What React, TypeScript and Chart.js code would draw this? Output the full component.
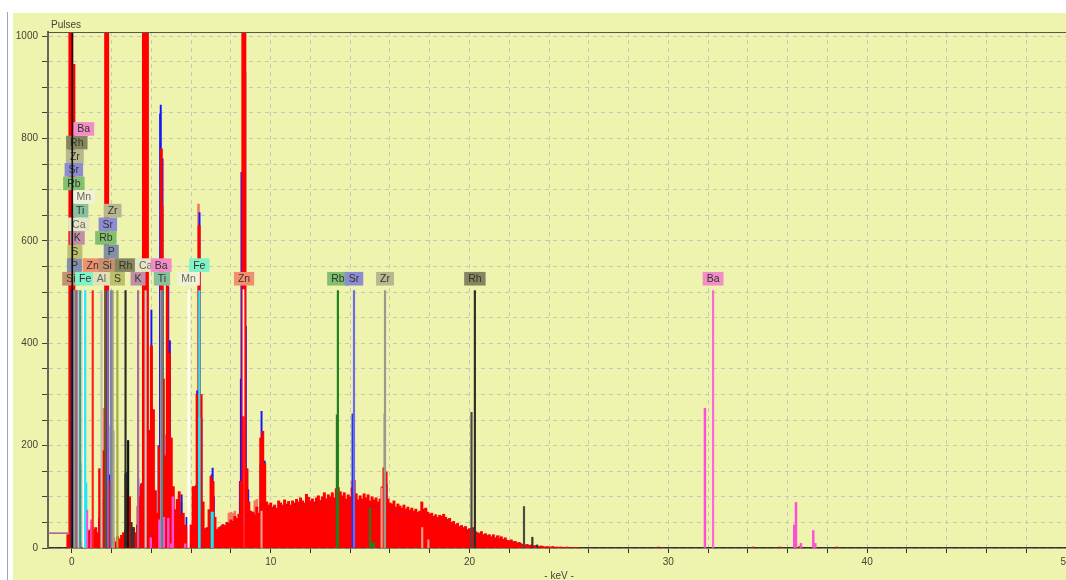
import React, { useEffect, useRef } from "react";
import { Chart, registerables } from "chart.js";

Chart.register(...registerables);

// Energy axis of the continuum starts at -0.2 keV, one count value per 0.1 keV bin.
const spectrumCounts = [
  26, 1100, 1100, 945, 0, 8, 12, 0, 0, 30,
  32, 35, 40, 36, 40, 30, 155, 20, 190, 1100,
  1100, 130, 60, 20, 12, 22, 18, 25, 30, 35,
  118, 100, 35, 40, 30, 45, 100, 125, 1100, 1100,
  1100, 230, 395, 270, 112, 68, 198, 780, 330, 180,
  520, 380, 215, 120, 75, 95, 110, 65, 68, 45,
  40, 45, 45, 120, 120, 300, 630, 300, 90, 38,
  40, 75, 140, 130, 60, 36, 40, 42, 46, 44,
  50, 48, 55, 52, 62, 58, 66, 130, 1100, 1100,
  155, 90, 72, 70, 65, 80, 68, 215, 228, 165,
  90, 84, 88, 80, 84, 78, 92, 88, 84, 94,
  86, 91, 84, 92, 88, 95, 90, 98, 92, 88,
  105, 99, 92, 96, 90, 98, 102, 93, 100, 108,
  96, 104, 100, 108, 98, 116, 118, 110, 102, 108,
  96, 104, 100, 118, 132, 106, 94, 102, 96, 106,
  98, 104, 92, 100, 94, 98, 90, 96, 118, 156,
  148, 96, 88, 86, 92, 80, 86, 82, 78, 84,
  76, 80, 74, 78, 72, 76, 70, 72, 90, 76,
  78, 70, 66, 68, 62, 65, 60, 64, 62, 66,
  60, 56, 58, 50, 52, 46, 48, 42, 44, 40,
  42, 36, 38, 34, 40, 32, 30, 28, 32, 26,
  28, 24, 26, 22, 26, 20, 24, 18, 22, 17,
  20, 15, 14, 16, 12, 13, 10, 11, 8, 7,
  6, 7, 5, 6, 4, 5, 4, 3, 4, 3,
  2, 3, 2, 2, 3, 1, 2, 1, 2, 1,
  1, 2, 1, 0, 1, 1, 0, 1,
];
const spectrumKev = spectrumCounts.map((_, bin) => (bin - 2) / 10);

const redShoulderKev = [4.56];
const redShoulderCounts = [668];

const salmonKev = [1.6, 3.3, 3.4, 5.5, 6.37, 7.9, 8.0, 8.1, 8.2, 9.2, 9.3, 14.1, 15.6, 15.7, 15.8, 21.5];
const salmonCounts = [273, 81, 120, 90, 672, 68, 70, 68, 72, 92, 95, 130, 120, 158, 150, 24];

const blueKev = [1.37, 1.58, 1.83, 1.88, 2.72, 2.78, 3.34, 3.54, 3.62, 3.82, 3.92, 4.0, 4.09, 4.14, 4.36, 4.45, 4.47, 4.44, 4.56, 4.76, 4.85, 4.93, 5.52, 5.77, 6.24, 6.3, 6.42, 6.52, 7.03, 7.08, 7.14, 8.45, 8.5, 8.53, 8.72, 8.75, 8.82, 8.87, 9.49, 9.54, 9.7, 15.83, 15.87, 16.1, 16.2];
const blueCounts = [58, 94, 238, 143, 148, 102, 135, 127, 510, 218, 172, 465, 270, 114, 200, 510, 865, 848, 760, 221, 510, 405, 104, 60, 122, 307, 655, 254, 143, 156, 101, 130, 330, 734, 928, 433, 153, 114, 163, 267, 170, 124, 40, 13, 13];

const cyanKev = [0.62, 0.72, 6.41, 7.04, 7.08];
const cyanCounts = [141, 127, 254, 70, 70];

const magentaKev = [0.76, 0.98, 3.97, 4.4, 4.63, 4.85, 5.0, 5.08, 5.7, 31.84, 36.33, 36.42, 36.67, 37.29, 37.39];
const magentaCounts = [74, 55, 20, 55, 60, 58, 8, 100, 8, 273, 45, 89, 9, 34, 9];

const betaKev = [0.42, 2.05, 2.1, 2.7, 2.83, 3.0, 3.1, 13.33, 14.12, 15.0, 15.1, 15.2, 15.73, 20.1, 22.74, 23.16, 23.4];
const betaCounts = [165, 229, 229, 145, 210, 50, 40, 260, 262, 78, 10, 10, 262, 265, 81, 21, 6];
const betaColors = ["#2f8f78", "#b4b4a2", "#b4b4a2", "#111111", "#111111", "#33332c", "#33332c", "#1f7f1f", "#2a2ae8", "#1f7f1f", "#1f7f1f", "#1f7f1f", "#8f8f85", "#4a4a40", "#4a4a40", "#33332c", "#33332c"];

const specksKev = [29.5, 34.26, 35.6, 36.6, 38.46];
const specksCounts = [2, 2, 2, 3, 2];

const paleKev = [9.54, 15.58, 17.62, 17.93];
const paleCounts = [72, 117, 40, 16];

const backgroundFitKev = [3, 4, 5, 5.5, 6, 7, 8, 9, 10, 11, 12, 13, 14, 15, 16, 17, 18, 19, 20, 21, 22, 23];
const backgroundFitCounts = [28, 22, 28, 38, 35, 38, 50, 65, 78, 84, 88, 90, 86, 82, 72, 66, 58, 45, 34, 24, 14, 5];

const thresholdKev = [-1.2, -0.1];
const thresholdCounts = [29, 29];

const peakTopKev = [0.02];
const peakTopCounts = [1100];

const whiteSegmentKev = [8.63];
const whiteSegmentCounts = [[258, 505]];

// Element markers: name, line energy, and how many label rows up the tag is stacked.
const markerNames = ["Si", "Rb", "P", "Sr", "S", "Zr", "Rh", "K", "Ca", "Ti", "Ba", "Mn", "Fe", "Zn", "Al", "Rb", "Si", "Sr", "P", "Zr", "S", "Rh", "K", "Ca", "Ba", "Ti", "Mn", "Fe", "Zn", "Rb", "Sr", "Zr", "Rh", "Ba"];
const markerKev = [-0.05, 0.1, 0.13, 0.1, 0.15, 0.15, 0.25, 0.27, 0.35, 0.42, 0.6, 0.6, 0.67, 1.05, 1.49, 1.71, 1.77, 1.81, 1.98, 2.05, 2.29, 2.7, 3.33, 3.71, 4.49, 4.53, 5.87, 6.41, 8.66, 13.38, 14.19, 15.75, 20.27, 32.25];
const markerRows = [0, 7, 1, 8, 2, 9, 10, 3, 4, 5, 11, 6, 0, 1, 0, 3, 1, 4, 2, 5, 0, 1, 0, 1, 1, 0, 0, 1, 0, 0, 0, 0, 0, 0];
const MARKER_TOP = 503;
const ROW_BASE = 526;
const ROW_STEP = 26.6;

const tagColors: Record<string, string> = {
  Ba: "#f48cc8", Rh: "#85855f", Zr: "#b8b88f", Sr: "#8c8cd2", Rb: "#82bf6e", Mn: "#f0f2d8", Ti: "#88bf9d", Ca: "#e4e6c6",
  K: "#bf8fa8", S: "#bdbf6a", P: "#8290a8", Si: "#c49270", Fe: "#80f2c8", Al: "#e0e2b8", Zn: "#f28f6f",
};
const stemColors: Record<string, string> = {
  Ba: "#ff66d9", Rh: "#2e2e26", Zr: "#9a9a8a", Sr: "#6a6ae6", Rb: "#1f7f1f", Mn: "#ffffff", Ti: "#2f9f80", Ca: "#c8c8c0",
  K: "#a86aa0", S: "#a8a840", P: "#6878a0", Si: "#8a2020", Fe: "#20e8ff", Al: "#c0c0b0", Zn: "#ff2020",
};

const FONT = "'Liberation Sans', Arial, sans-serif";
const xy = (xs: number[], ys: any[]) => xs.map((x, i) => ({ x, y: ys[i] }));
const bars = (xs: number[], ys: any[], color: any, width: number) => ({
  type: "bar" as const, data: xy(xs, ys), backgroundColor: color, barThickness: width, grouped: false, borderWidth: 0,
});

export default function App() {
  const ref = useRef<HTMLCanvasElement>(null);
  useEffect(() => {
    const paintOrder: any[] = [
      bars(salmonKev, salmonCounts, "#f27a62", 2),
      bars(blueKev, blueCounts, "#1414ff", 1.3),
      bars(spectrumKev, spectrumCounts, "#ff0000", 2.3),
      bars(redShoulderKev, redShoulderCounts, "#ff0000", 1.2),
      { type: "line", data: xy(backgroundFitKev, backgroundFitCounts), borderColor: "rgba(70,30,190,0.65)", borderWidth: 1, borderDash: [2, 5], pointRadius: 0, tension: 0.3 },
      bars(specksKev, specksCounts, "#e01010", 1.5),
      bars(paleKev, paleCounts, "#ef9c88", 1.5),
      bars(cyanKev, cyanCounts, "#12e8f4", 1.6),
      bars(magentaKev, magentaCounts, "#ff4fd8", 1.8),
      bars(betaKev, betaCounts, betaColors, 1.5),
      bars(markerKev, markerKev.map(() => MARKER_TOP), markerNames.map((n) => stemColors[n]), 1.5),
      bars(whiteSegmentKev, whiteSegmentCounts, "#fff4e8", 1),
      { type: "line", data: xy(thresholdKev, thresholdCounts), borderColor: "#a05f90", borderWidth: 1.5, pointRadius: 0 },
      bars(peakTopKev, peakTopCounts, "#111111", 1),
    ];
    const n = paintOrder.length;
    const datasets = paintOrder.map((d, i) => ({ ...d, order: n - i }));
    const tagLayer = n - 2;

    const frame = {
      id: "frame",
      beforeDraw(chart: any) {
        const c = chart.ctx;
        c.save();
        c.fillStyle = "#ffffff";
        c.fillRect(0, 0, 1066, 580);
        c.fillStyle = "#eef3ae";
        c.fillRect(13, 13, 1053, 567);
        c.fillStyle = "#a4a4ac";
        c.fillRect(7, 12, 1, 568);
        c.restore();
      },
      afterDraw(chart: any) {
        const c = chart.ctx;
        const a = chart.chartArea;
        c.save();
        c.strokeStyle = "#55554a";
        c.lineWidth = 1;
        c.beginPath();
        c.moveTo(a.left, a.top + 0.5);
        c.lineTo(a.right, a.top + 0.5);
        c.stroke();
        c.fillStyle = "#444438";
        c.font = `10px ${FONT}`;
        c.textBaseline = "middle";
        c.fillText("Pulses", 51, 25);
        c.textAlign = "center";
        c.fillText("- keV -", 559, 576);
        c.restore();
      },
      afterDatasetDraw(chart: any, args: any) {
        if (args.index !== tagLayer) return;
        const c = chart.ctx;
        const xs = chart.scales.x;
        const ys = chart.scales.y;
        c.save();
        c.font = `10.5px ${FONT}`;
        c.textAlign = "center";
        c.textBaseline = "middle";
        markerNames.forEach((name, i) => {
          const px = xs.getPixelForValue(markerKev[i]);
          const py = ys.getPixelForValue(ROW_BASE + ROW_STEP * markerRows[i]);
          const w = c.measureText(name).width + 8;
          c.fillStyle = tagColors[name];
          c.fillRect(px - w / 2, py - 6.8, w, 13.6);
          c.fillStyle = name === "Mn" || name === "Ca" || name === "Al" ? "#66665c" : "#33332c";
          c.fillText(name, px, py + 0.5);
        });
        c.restore();
      },
    };

    const chart = new Chart(ref.current!, {
      type: "bar",
      data: { datasets },
      plugins: [frame],
      options: {
        responsive: false,
        animation: false,
        events: [],
        layout: { autoPadding: false, padding: { left: 0, right: 0, top: 32, bottom: 0 } },
        plugins: { legend: { display: false }, tooltip: { enabled: false } },
        scales: {
          x: {
            type: "linear",
            min: -1.2,
            max: 50,
            offset: false,
            afterFit: (s: any) => { s.height = 32; s.paddingRight = 0; s.paddingLeft = 0; },
            border: { display: true, color: "#33332c", width: 1.5, dash: [4, 4] },
            grid: { offset: false, color: "#c8c8b8", lineWidth: 1, tickColor: "#33332c", tickLength: 5, tickWidth: 1, drawTicks: true },
            ticks: {
              stepSize: 2, includeBounds: false, autoSkip: false, maxRotation: 0, padding: 3,
              color: "#444438", font: { family: FONT, size: 10 },
              callback: (v: any) => (Number(v) % 10 === 0 ? String(v) : ""),
            },
          },
          y: {
            type: "linear",
            min: 0,
            max: 1008,
            afterFit: (s: any) => { s.width = 48; },
            border: { display: true, color: "#66665c", width: 2, dash: [4, 4] },
            grid: { color: "#c8c8b8", lineWidth: 1, tickColor: "#44443a", tickLength: 6, tickWidth: 1 },
            ticks: {
              stepSize: 50, includeBounds: false, autoSkip: false, padding: 4,
              color: "#444438", font: { family: FONT, size: 10 },
              callback: (v: any) => (Number(v) % 200 === 0 ? String(v) : ""),
            },
          },
        },
      },
    } as any);
    return () => chart.destroy();
  }, []);
  return (
    <div style={{ position: "fixed", left: 0, top: 0, width: 1066, height: 580, overflow: "hidden" }}>
      <canvas ref={ref} width={1066} height={580} style={{ display: "block", filter: "blur(0.35px)" }} />
    </div>
  );
}
